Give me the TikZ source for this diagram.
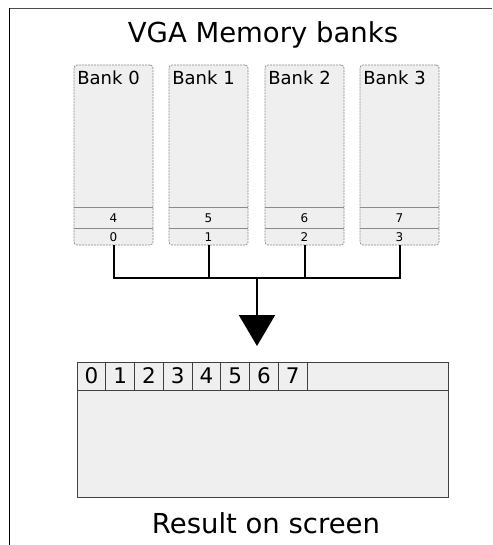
\documentclass[tikz,border=0pt]{standalone}
\usepackage{fontspec}
\setmainfont{DejaVu Sans}
\usetikzlibrary{arrows.meta}
\definecolor{boxfill}{HTML}{EFEFEF}
\definecolor{bankline}{HTML}{8A8A8A}
\definecolor{scrline}{HTML}{404040}
\tikzset{
  bank/.style={draw=bankline, dash pattern=on 2pt off 1pt, fill=boxfill, rounded corners=3pt, line width=0.7pt,
    minimum width=79pt, minimum height=180pt, inner sep=0pt},
  banklabel/.style={anchor=north west, inner sep=0pt, font=\fontsize{18}{20}\selectfont},
  small/.style={inner sep=0pt, font=\fontsize{12}{13}\selectfont},
  rowline/.style={draw=bankline, line width=0.8pt},
  bus/.style={line width=2pt, black},
  screen/.style={draw=scrline, fill=boxfill, line width=1pt, minimum width=371pt, minimum height=135pt, inner sep=0pt},
  digit/.style={inner sep=0pt, font=\fontsize{21.5}{23}\selectfont},
  celline/.style={draw=scrline, line width=1pt},
  title/.style={inner sep=0pt, font=\fontsize{27.5}{29}\selectfont},
}
\begin{document}
\begin{tikzpicture}[x=1pt,y=-1pt]
\useasboundingbox (0,0) rectangle (492,545);
% frame (top and left only)
\draw[line width=1.5pt, draw=black!70] (9,8.5) -- (492,8.5);
\draw[line width=1.5pt, draw=black] (9.5,8) -- (9.5,545);
% title
\node[title] (title) at (263,35) {VGA Memory banks};
% banks
\foreach \i/\x/\hi/\lo in {0/113.5/4/0, 1/208.5/5/1, 2/304.5/6/2, 3/399.5/7/3}{
  \node[bank] (b\i) at (\x,155) {};
  \node[banklabel] (bl\i) at ([xshift=3.5pt,yshift=-6pt]b\i.north west) {Bank \i};
  \draw[rowline] ([yshift=38pt]b\i.south west) -- ([yshift=38pt]b\i.south east);
  \draw[rowline] ([yshift=17pt]b\i.south west) -- ([yshift=17pt]b\i.south east);
  \node[small] (hi\i) at ([yshift=27.5pt]b\i.south) {\hi};
  \node[small] (lo\i) at ([yshift=8.5pt]b\i.south) {\lo};
}
% bus
\coordinate (bus) at (257,278);
\coordinate (tip) at (257,346);
\draw[bus] (b0.south) -- (b0.south |- bus) -- (b3.south |- bus) -- (b3.south);
\draw[bus] (b1.south) -- (b1.south |- bus);
\draw[bus] (b2.south) -- (b2.south |- bus);
\draw[bus, -{Triangle[width=36pt,length=31pt]}] (bus) -- (tip);
% screen
\node[screen] (scr) at (262.5,429.5) {};
\draw[celline] (77,390) -- (448,390);
\foreach \k in {0,...,7}{
  \pgfmathsetmacro{\xl}{77+28.75*\k}
  \pgfmathsetmacro{\xr}{77+28.75*(\k+1)}
  \node[digit] (d\k) at ({(\xl+\xr)/2},376) {\k};
  \draw[celline] (\xr,362) -- (\xr,390);
}
\node[title] (res) at (266,523) {Result on screen};
\end{tikzpicture}
\end{document}
